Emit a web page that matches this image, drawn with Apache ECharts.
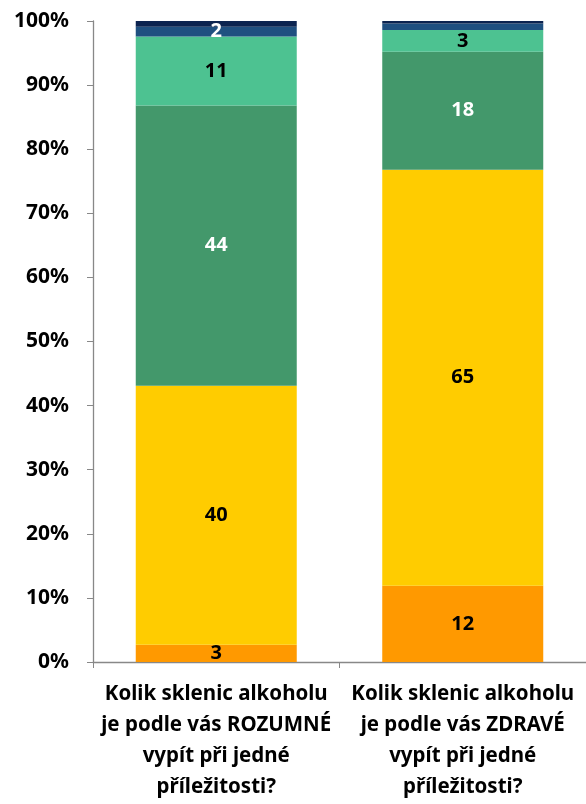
<!DOCTYPE html>
<html><head><meta charset="utf-8">
<script src="https://cdn.jsdelivr.net/npm/echarts@6/dist/echarts.min.js"></script>
<style>html,body{margin:0;padding:0;background:#fff}#c{width:586px;height:804px}</style>
</head><body><div id="c"></div>
<script>
const categories = ['Kolik sklenic alkoholu\nje podle vás ROZUMNÉ\nvypít při jedné\npříležitosti?', 'Kolik sklenic alkoholu\nje podle vás ZDRAVÉ\nvypít při jedné\npříležitosti?'];
const yTicks = [0,10,20,30,40,50,60,70,80,90,100];
const sOrange = [2.7, 11.9];
const sYellow = [40.4, 64.9];
const sGreen = [43.7, 18.4];
const sLight = [10.8, 3.4];
const sBlue = [1.5, 1.0];
const sNavy = [0.9, 0.4];
const colors = ['#ff9900','#ffcc00','#43986b','#4dc291','#1f5080','#0c2450'];
const labelColors = ['#000','#000','#fff','#000','#fff','#fff'];
const showLabel = [[true,true],[true,true],[true,true],[true,true],[true,false],[false,false]];
const allSeries = [sOrange,sYellow,sGreen,sLight,sBlue,sNavy];
const FONT = 'Noto Sans';
const chart = echarts.init(document.getElementById('c'));
chart.setOption({
  animation:false,
  grid:{left:93, top:21, width:498, height:641, containLabel:false},
  xAxis:{type:'category', data:categories,
    axisLine:{lineStyle:{color:'#888',width:1.3}},
    axisTick:{show:true, length:6, lineStyle:{color:'#888'}},
    axisLabel:{interval:0, color:'#000', fontFamily:FONT, fontWeight:'bold', fontSize:20.5, lineHeight:31, margin:17}
  },
  yAxis:{type:'value', min:0, max:100, interval:10,
    axisLine:{show:true, lineStyle:{color:'#888',width:1.3}},
    axisTick:{show:true, length:6, lineStyle:{color:'#888'}},
    splitLine:{show:false},
    axisLabel:{color:'#000', fontFamily:FONT, fontWeight:'bold', fontSize:21, margin:24, formatter:v=>v+'%'}
  },
  series: allSeries.map((arr,i)=>({
    type:'bar', stack:'a', barWidth:161,
    itemStyle:{color:colors[i]},
    data: arr.map((v,j)=>({value:v, label:{show:showLabel[i][j]}})),
    label:{position:'inside', color:labelColors[i], fontFamily:FONT, fontWeight:'bold', fontSize:20,
      formatter:p=>Math.round(p.value)}
  }))
});
</script></body></html>
